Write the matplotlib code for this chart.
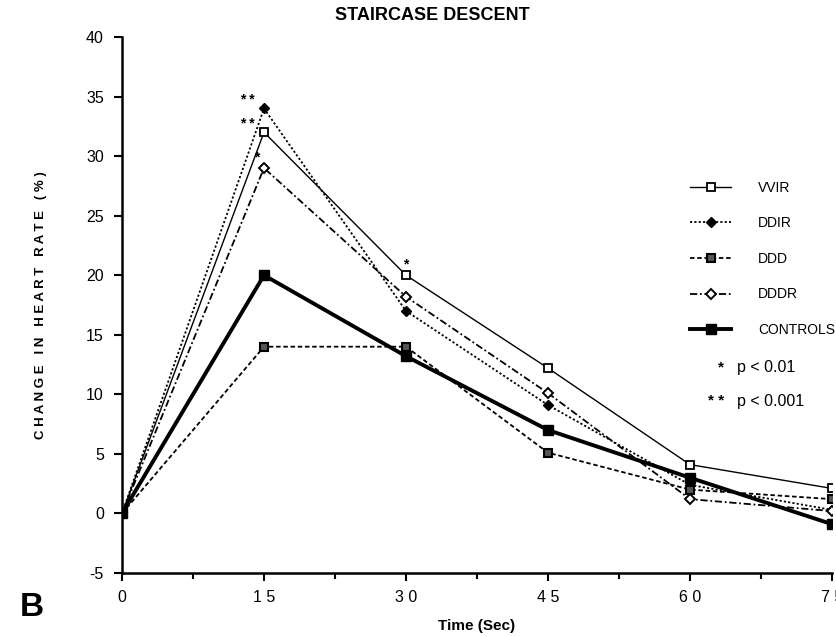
import numpy as np
import matplotlib
matplotlib.use('Agg')
import matplotlib.pyplot as plt

plt.rcParams['font.family'] = ['Liberation Sans', 'DejaVu Sans']
plt.rcParams['axes.unicode_minus'] = False

time = [0, 15, 30, 45, 60, 75]
vvir = [0, 32.0, 20.0, 12.2, 4.1, 2.1]
ddir = [0, 34.0, 17.0, 9.1, 2.4, 0.3]
ddd = [0, 14.0, 14.0, 5.1, 2.0, 1.2]
dddr = [0, 29.0, 18.2, 10.1, 1.2, 0.2]
controls = [0, 20.0, 13.2, 7.0, 3.0, -0.9]

fig = plt.figure(figsize=(8.37, 6.37), dpi=100)
ax = fig.add_axes([122/837, 64/637, 710/837, 536/637])

ax.plot(time, vvir, color='black', lw=1.0, ls='-', marker='s', ms=6,
        mfc='white', mec='black', mew=1.3, label='VVIR', zorder=4)
ax.plot(time, ddir, color='black', lw=1.3, ls=(0, (1.2, 1.2)), marker='D', ms=5.5,
        mfc='black', mec='black', label='DDIR', zorder=4)
ax.plot(time, ddd, color='black', lw=1.3, ls=(0, (2.5, 1.5)), marker='s', ms=6,
        mfc='#555555', mec='black', mew=1.5, label='DDD', zorder=4)
ax.plot(time, dddr, color='black', lw=1.3, ls=(0, (4, 1.5, 1, 1.5)), marker='D', ms=5.5,
        mfc='white', mec='black', mew=1.4, label='DDDR', zorder=4)
ax.plot(time, controls, color='black', lw=2.8, ls='-', marker='s', ms=6.5,
        mfc='black', mec='black', label='CONTROLS', zorder=5)

# significance marks
ax.text(15 - 1.0, ddir[1] + 0.1, '* *', ha='right', va='bottom', fontsize=10, fontweight='bold')
ax.text(15 - 1.0, vvir[1] + 0.1, '* *', ha='right', va='bottom', fontsize=10, fontweight='bold')
ax.text(15 - 0.5, dddr[1] + 0.3, '*', ha='right', va='bottom', fontsize=10, fontweight='bold')
ax.text(30 - 0.3, vvir[2] + 0.3, '*', ha='left', va='bottom', fontsize=10, fontweight='bold')

ax.set_xlim(0, 75)
ax.set_ylim(-5, 40)
ax.set_xticks(time)
ax.set_xticklabels(['0', '1 5', '3 0', '4 5', '6 0', '7 5'], fontsize=11.5)
ax.set_xticks(np.arange(7.5, 75, 15), minor=True)
ax.set_yticks(np.arange(-5, 41, 5))
ax.tick_params(axis='y', labelsize=11.5, direction='out', length=6, width=1.5, pad=7)
ax.tick_params(axis='x', which='major', direction='out', length=6, width=1.5, pad=6)
ax.tick_params(axis='x', which='minor', direction='out', length=4, width=1.5)
for side in ['top', 'right']:
    ax.spines[side].set_visible(False)
for side in ['left', 'bottom']:
    ax.spines[side].set_linewidth(1.8)

ax.set_xlabel('Time (Sec)', fontsize=11, fontweight='bold', labelpad=10)
ax.set_ylabel('C H A N G E   I N   H E A R T   R A T E   ( % )', fontsize=9.5,
              fontweight='bold', labelpad=28)
fig.text(432/837, 1 - 15/637, 'STAIRCASE DESCENT', fontsize=13, fontweight='bold',
         ha='center', va='center')

leg = ax.legend(loc='upper left', bbox_to_anchor=(0.782, 0.755), frameon=False,
                fontsize=10, handlelength=3.0, handletextpad=1.9, labelspacing=1.55)

ax.text(0.84, 0.384, '*', transform=ax.transAxes, fontsize=11, fontweight='bold', va='center')
ax.text(0.866, 0.384, 'p < 0.01', transform=ax.transAxes, fontsize=11.5, va='center')
ax.text(0.826, 0.32, '* *', transform=ax.transAxes, fontsize=11, fontweight='bold', va='center')
ax.text(0.866, 0.32, 'p < 0.001', transform=ax.transAxes, fontsize=11.5, va='center')

fig.text(20/837, 1 - 607/637, 'B', fontsize=24, fontweight='bold', va='center')

fig.savefig('out.png', dpi=100)
